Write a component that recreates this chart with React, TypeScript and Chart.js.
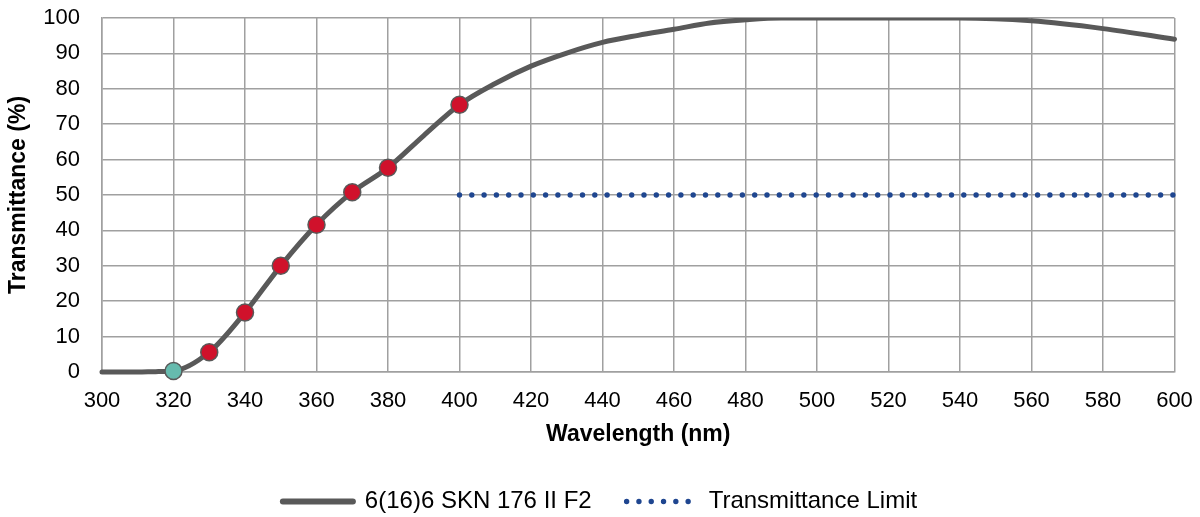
import React, { useEffect, useRef } from 'react';
import { Chart, registerables } from 'chart.js';

Chart.register(...registerables);

const wavelengths = [300, 310, 315, 320, 330, 340, 350, 360, 370, 380, 390, 400, 410, 420, 430, 440, 450, 460, 470, 480, 490, 500, 520, 540, 560, 580, 600];
const transmittance = [0, 0, 0.1, 0.3, 5.6, 16.8, 30, 41.6, 50.8, 57.7, 66.8, 75.5, 81.5, 86.4, 90.1, 93.1, 95.1, 96.8, 98.6, 99.5, 100, 100, 100, 100, 99.2, 97, 94];
const redMarkerWavelengths = [330, 340, 350, 360, 370, 380, 400];
const redMarkerValues = [5.6, 16.8, 30, 41.6, 50.8, 57.7, 75.5];
const tealMarkerWavelengths = [320];
const tealMarkerValues = [0.3];
const limitWavelengths = [400, 600];
const limitValues = [50, 50];

const seriesLabel = '6(16)6 SKN 176 II F2';
const limitLabel = 'Transmittance Limit';
const xTitle = 'Wavelength (nm)';
const yTitle = 'Transmittance (%)';

const FONT = '"Liberation Sans", Arial, Helvetica, sans-serif';
const GRID = '#a0a0a0';

const toPoints = (xs: number[], ys: number[]) => xs.map((x, i) => ({ x, y: ys[i] }));

const zeroPad = (s: any) => {
  s.paddingTop = 0;
  s.paddingBottom = 0;
  s.paddingLeft = 0;
  s.paddingRight = 0;
};

export default function App() {
  const ref = useRef<HTMLCanvasElement | null>(null);

  useEffect(() => {
    if (!ref.current) return;
    Chart.defaults.font.family = FONT;
    const chart = new Chart(ref.current, {
      type: 'line',
      data: {
        datasets: [
          {
            label: seriesLabel,
            data: toPoints(wavelengths, transmittance),
            borderColor: '#595959',
            backgroundColor: '#595959',
            borderWidth: 5,
            borderCapStyle: 'round',
            borderJoinStyle: 'round',
            pointRadius: 0,
            cubicInterpolationMode: 'monotone',
            clip: { left: 5, right: 5, top: 0, bottom: 5 },
            order: 1,
          } as any,
          {
            label: limitLabel,
            data: toPoints(limitWavelengths, limitValues),
            borderColor: '#1f4690',
            backgroundColor: '#1f4690',
            borderWidth: 5.4,
            borderDash: [0, 12.3],
            borderCapStyle: 'round',
            pointRadius: 0,
            tension: 0,
            clip: false,
            order: 2,
          } as any,
          {
            label: 'red',
            data: toPoints(redMarkerWavelengths, redMarkerValues),
            showLine: false,
            pointRadius: 8.5,
            pointBackgroundColor: '#d0112b',
            pointBorderColor: '#595959',
            pointBorderWidth: 1.5,
            clip: false,
            order: -1,
          } as any,
          {
            label: 'teal',
            data: toPoints(tealMarkerWavelengths, tealMarkerValues),
            showLine: false,
            pointRadius: 8.5,
            pointBackgroundColor: '#66bbae',
            pointBorderColor: '#595959',
            pointBorderWidth: 1.5,
            clip: false,
            order: -1,
          } as any,
        ],
      },
      options: {
        animation: false,
        responsive: false,
        layout: { padding: { top: 18, left: 0, right: 0, bottom: -6.5 } },
        plugins: {
          tooltip: { enabled: false },
          legend: {
            position: 'bottom',
            labels: {
              usePointStyle: true,
              pointStyle: 'line',
              pointStyleWidth: 70,
              padding: 35,
              color: '#000',
              font: { size: 24, family: FONT },
              generateLabels: (c: any) =>
                c.data.datasets.slice(0, 2).map((ds: any, i: number) => ({
                  text: ds.label,
                  fillStyle: ds.borderColor,
                  strokeStyle: ds.borderColor,
                  lineWidth: i === 0 ? 6 : 5.4,
                  lineDash: ds.borderDash || [],
                  lineDashOffset: 0,
                  lineCap: 'round',
                  lineJoin: 'round',
                  pointStyle: 'line',
                  rotation: 0,
                  hidden: false,
                  datasetIndex: i,
                  fontColor: '#000',
                })),
            },
          },
        },
        scales: {
          x: {
            type: 'linear',
            min: 300,
            max: 600,
            ticks: { stepSize: 20, color: '#000', padding: 16, font: { size: 22, family: FONT }, maxRotation: 0 },
            grid: { color: GRID, lineWidth: 1.5, drawTicks: false },
            border: { color: GRID, width: 1.5 },
            title: { display: true, text: xTitle, color: '#000', font: { size: 23, weight: 'bold', family: FONT }, padding: { top: 0, bottom: 6 } },
            afterFit: (s: any) => { s.height = 82.5; zeroPad(s); },
          },
          y: {
            type: 'linear',
            min: 0,
            max: 100,
            ticks: { stepSize: 10, color: '#000', padding: 22, font: { size: 22, family: FONT } },
            grid: { color: GRID, lineWidth: 1.5, drawTicks: false },
            border: { color: GRID, width: 1.5 },
            title: { display: true, text: yTitle, color: '#000', font: { size: 23, weight: 'bold', family: FONT }, padding: { top: 5, bottom: 0 } },
            afterFit: (s: any) => { s.width = 102; zeroPad(s); },
          },
          yRightSpace: {
            type: 'linear',
            position: 'right',
            display: true,
            min: 0,
            max: 100,
            grid: { display: false, drawTicks: false },
            ticks: { display: false },
            border: { display: false },
            afterFit: (s: any) => { s.width = 25.5; zeroPad(s); },
          },
        },
      } as any,
    });
    return () => chart.destroy();
  }, []);

  return (
    <div style={{ position: 'fixed', left: 0, top: 0, width: 1200, height: 517, background: '#fff', overflow: 'hidden' }}>
      <canvas ref={ref} width={1200} height={517} style={{ display: 'block' }} />
    </div>
  );
}
